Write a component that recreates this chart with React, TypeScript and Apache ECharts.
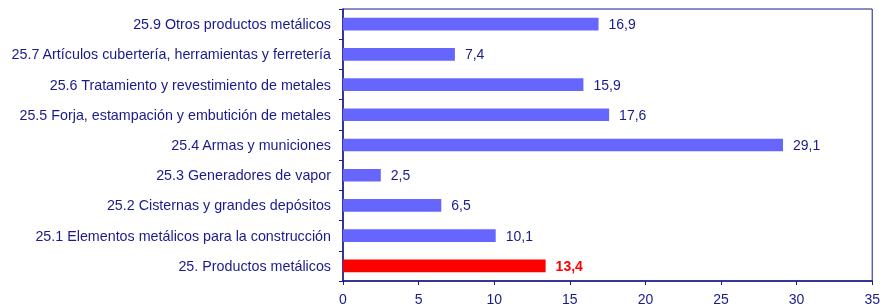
import React, { useEffect, useRef } from "react";
import * as echarts from "echarts";

const categories = [
  "25. Productos metálicos",
  "25.1 Elementos metálicos para la construcción",
  "25.2 Cisternas y grandes depósitos",
  "25.3 Generadores de vapor",
  "25.4 Armas y municiones",
  "25.5 Forja, estampación y embutición de metales",
  "25.6 Tratamiento y revestimiento de metales",
  "25.7 Artículos cubertería, herramientas y ferretería",
  "25.9 Otros productos metálicos",
];
const values = [13.4, 10.1, 6.5, 2.5, 29.1, 17.6, 15.9, 7.4, 16.9];
const highlightIndex = 0;

const NAVY = "#1a1a8c";
const FONT = "'Liberation Sans', Arial, sans-serif";

export default function App() {
  const ref = useRef<HTMLDivElement>(null);
  useEffect(() => {
    if (!ref.current) return;
    document.body.style.margin = "0";
    document.body.style.overflow = "hidden";
    const chart = echarts.init(ref.current, undefined, { renderer: "svg" });
    const fmt = (v: number) => v.toFixed(1).replace(".", ",");
    chart.setOption({
      animation: false,
      grid: {
        left: 343,
        right: 9,
        top: 9,
        bottom: 23,
        show: true,
        borderColor: NAVY,
        borderWidth: 1,
        backgroundColor: "transparent",
      },
      xAxis: {
        type: "value",
        min: 0,
        max: 35,
        interval: 5,
        axisLine: { show: true, lineStyle: { color: NAVY, width: 1.5 } },
        axisTick: { show: true, length: 4, lineStyle: { color: NAVY } },
        splitLine: { show: false },
        axisLabel: { color: NAVY, fontFamily: FONT, fontSize: 14, margin: 11 },
      },
      yAxis: {
        type: "category",
        data: categories,
        axisLine: { show: true, lineStyle: { color: NAVY, width: 1.5 } },
        axisTick: { show: true, length: 4, lineStyle: { color: NAVY } },
        axisLabel: { color: NAVY, fontFamily: FONT, fontSize: 14.3, margin: 12 },
      },
      series: [
        {
          type: "bar",
          barWidth: "42%",
          data: values.map((v, i) =>
            i === highlightIndex
              ? {
                  value: v,
                  itemStyle: { color: "#ff0000" },
                  label: { color: "#ff0000", fontWeight: "bold" },
                }
              : { value: v }
          ),
          itemStyle: { color: "#6666ff" },
          label: {
            show: true,
            position: "right",
            distance: 10,
            color: NAVY,
            fontFamily: FONT,
            fontSize: 14,
            formatter: (p: any) => fmt(p.value),
          },
        },
      ],
    });
    return () => chart.dispose();
  }, []);
  return (
    <div
      ref={ref}
      style={{ position: "fixed", left: 0, top: 0, width: 883, height: 306 }}
    />
  );
}
